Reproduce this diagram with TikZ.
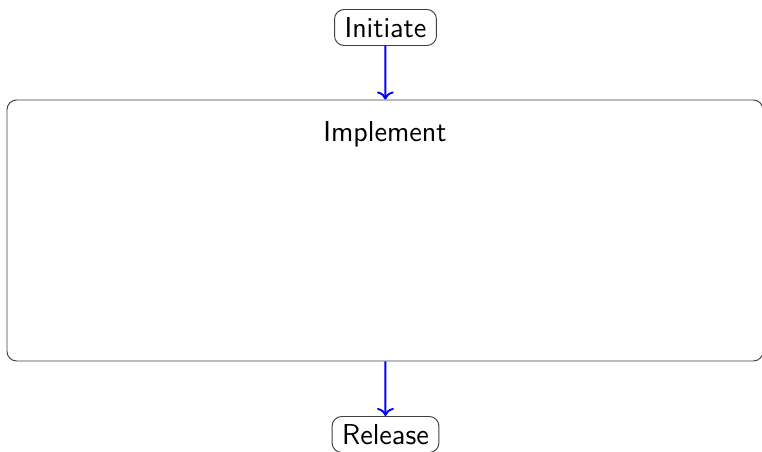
\documentclass[tikz,border=0pt]{standalone}
\usetikzlibrary{arrows.meta}
\begin{document}
\begin{tikzpicture}[x=0.41667pt, y=-0.41667pt,
  font=\sffamily\large,
  stage/.style={draw=black!75, rounded corners=4pt, inner xsep=4.2pt, inner ysep=2pt, minimum height=15pt},
  phase/.style={draw=black!75, rounded corners=4pt, minimum width=315pt, minimum height=108.75pt},
  flow/.style={draw=blue, thick, ->}]
\useasboundingbox (0,0) rectangle (762,451);
\node[stage] (init) at (385.5,27.5) {Initiate};
\node[phase] (impl) at (385,230.5) {};
\node (impltitle) at (385,134) {Implement};
\node[stage] (rel) at (385.5,434.5) {Release};
\draw[flow] (init) -- (impl);
\draw[flow] (impl) -- (rel);
\end{tikzpicture}
\end{document}
